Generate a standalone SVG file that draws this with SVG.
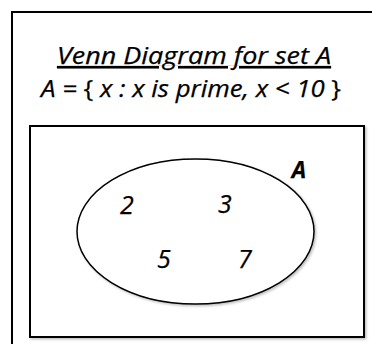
<svg xmlns="http://www.w3.org/2000/svg" width="372" height="344" viewBox="0 0 372 344">
  <defs>
    <filter id="sh" x="-5%" y="-5%" width="110%" height="110%">
      <feDropShadow dx="1.5" dy="1.5" stdDeviation="1.2" flood-color="#000" flood-opacity="0.25"/>
    </filter>
  </defs>
  <style>
    .box { fill: #fff; stroke: #000; stroke-width: 2; }
    .ell { fill: #fff; stroke: #000; stroke-width: 1.5; }
    .t { font-family: "Open Sans", "Liberation Sans", sans-serif; font-style: italic; fill: #000; stroke: #000; stroke-width: 0.25; }
    .num { font-size: 25px; }
  </style>
  <rect width="372" height="344" fill="#fff"/>
  <g id="frame">
    <rect class="box" x="12" y="12" width="372" height="345" filter="url(#sh)"/>
  </g>
  <g id="title">
    <text class="t" x="194" y="64" font-size="24" text-anchor="middle" textLength="274" lengthAdjust="spacingAndGlyphs" text-decoration="underline">Venn Diagram for set A</text>
    <text class="t" x="191" y="97" font-size="24" text-anchor="middle" textLength="300" lengthAdjust="spacingAndGlyphs">A = <tspan font-style="normal">{</tspan> x : x is prime, x &lt; 10 <tspan font-style="normal">}</tspan></text>
  </g>
  <g id="universal">
    <rect class="box" x="30" y="126" width="334" height="211" filter="url(#sh)"/>
  </g>
  <g id="setA">
    <ellipse class="ell" cx="195.5" cy="231.5" rx="118.5" ry="72.5" filter="url(#sh)"/>
    <text class="t" x="299" y="178" font-size="23" font-weight="bold" text-anchor="middle">A</text>
  </g>
  <g id="elements">
    <text class="t num" x="127" y="214" text-anchor="middle">2</text>
    <text class="t num" x="225" y="213" text-anchor="middle">3</text>
    <text class="t num" x="164" y="268" text-anchor="middle">5</text>
    <text class="t num" x="245" y="268" text-anchor="middle">7</text>
  </g>
  <g id="connectors"></g>
</svg>
